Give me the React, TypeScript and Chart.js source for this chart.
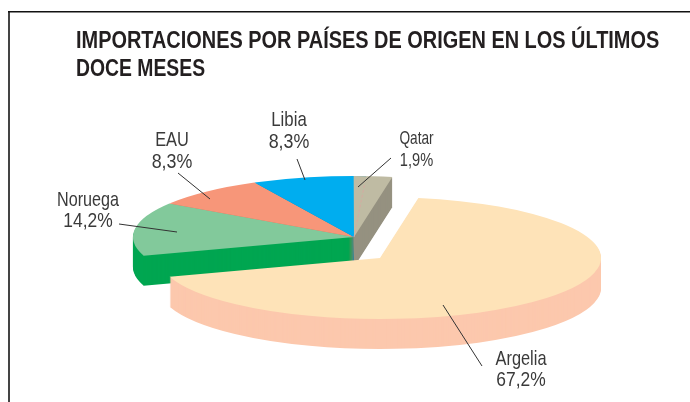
import React, { useEffect, useRef } from "react";
import { Chart, registerables } from "chart.js";

Chart.register(...registerables);

const countries = ["Argelia", "Noruega", "EAU", "Libia", "Qatar"];
const shares = [67.2, 14.2, 8.3, 8.3, 1.9];
const topColors = ["#FEE3B8", "#82C99B", "#F79679", "#00ADEF", "#BFBBA3"];
const sideColors = ["#FCC8AD", "#00A651", "#C9785F", "#0089BE", "#959180"];
const titleLines = ["IMPORTACIONES POR PAÍSES DE ORIGEN EN LOS ÚLTIMOS", "DOCE MESES"];

const FONT = '"Liberation Sans", Arial, sans-serif';
const pie = { cx: 354, cy: 237, rx: 221, ry: 61, depth: 30, startDeg: 10 };
const explode = { dx: 26, dy: 21 };
const QATAR_OVERLAP = 0.9;
const titleStyle = { x: 76, size: 24.5, squeeze: [0.813, 0.79], baselines: [48, 76] };
const callouts = [
  { x: 521, y: 365, y2: 386, size: 21, squeeze: 0.78, squeeze2: 0.83, from: [482, 366], to: [443, 305] },
  { x: 88, y: 206, y2: 227, size: 21, squeeze: 0.77, squeeze2: 0.83, from: [119, 224], to: [177, 232] },
  { x: 172, y: 146, y2: 168, size: 21, squeeze: 0.78, squeeze2: 0.85, from: [178, 173], to: [210, 199] },
  { x: 289, y: 126, y2: 148, size: 21, squeeze: 0.8, squeeze2: 0.85, from: [297, 159], to: [305, 180] },
  { x: 416.5, y: 144, y2: 166, size: 19, squeeze: 0.72, squeeze2: 0.77, from: [391, 158], to: [358, 187] },
];

const pie3d = {
  id: "pie3d",
  beforeDraw(chart: any) {
    const { ctx } = chart;
    ctx.save();
    ctx.fillStyle = "#FFFFFF";
    ctx.fillRect(0, 0, chart.width, chart.height);
    ctx.strokeStyle = "#444444";
    ctx.lineWidth = 2;
    ctx.beginPath();
    ctx.moveTo(9, chart.height);
    ctx.lineTo(9, 11);
    ctx.stroke();
    ctx.strokeStyle = "#111111";
    ctx.lineWidth = 1.5;
    ctx.beginPath();
    ctx.moveTo(8, 11.75);
    ctx.lineTo(chart.width, 11.75);
    ctx.stroke();
    ctx.restore();
  },
  beforeDatasetDraw(chart: any) {
    const { ctx, chartArea } = chart;
    const arcs = chart.getDatasetMeta(0).data;
    const sx = pie.rx / arcs[0].outerRadius;
    const sy = pie.ry / arcs[0].outerRadius;
    const qatar = arcs[4];
    const realStart = qatar.startAngle;
    const paint = (arc: any, x: number, y: number, color: string) => {
      const opts = arc.options;
      arc.options = { ...opts, backgroundColor: color, borderWidth: 0 };
      ctx.save();
      ctx.translate(x, y);
      ctx.scale(sx, sy);
      ctx.translate(-arc.x, -arc.y);
      arc.draw(ctx, chartArea);
      ctx.restore();
      arc.options = opts;
    };
    qatar.startAngle = realStart - (QATAR_OVERLAP / 100) * Math.PI * 2;
    for (const i of [3, 2, 4, 1]) {
      for (let d = pie.depth; d >= 1; d--) paint(arcs[i], pie.cx, pie.cy + d, sideColors[i]);
    }
    for (const i of [1, 2, 3, 4]) paint(arcs[i], pie.cx, pie.cy, topColors[i]);
    qatar.startAngle = realStart;

    const mx = pie.cx + Math.cos(realStart) * pie.rx * 0.89;
    const my = pie.cy + Math.sin(realStart) * pie.ry * 0.89;
    ctx.save();
    ctx.strokeStyle = "#D9A6A0";
    ctx.lineWidth = 0.8;
    ctx.setLineDash([3, 2]);
    ctx.beginPath();
    ctx.moveTo(pie.cx, pie.cy);
    ctx.lineTo(mx, my);
    ctx.stroke();
    ctx.restore();

    const ax = pie.cx + explode.dx;
    const ay = pie.cy + explode.dy;
    for (let d = pie.depth; d >= 1; d--) paint(arcs[0], ax, ay + d, sideColors[0]);
    paint(arcs[0], ax, ay, topColors[0]);
    return false;
  },
  afterDatasetsDraw(chart: any) {
    const { ctx } = chart;
    const squeezed = (text: string, x: number, y: number, k: number) => {
      ctx.save();
      ctx.translate(x, y);
      ctx.scale(k, 1);
      ctx.fillText(text, 0, 0);
      ctx.restore();
    };
    ctx.save();
    ctx.textBaseline = "alphabetic";
    ctx.textAlign = "left";
    ctx.fillStyle = "#231F20";
    ctx.font = `bold ${titleStyle.size}px ${FONT}`;
    titleLines.forEach((line, i) =>
      squeezed(line, titleStyle.x, titleStyle.baselines[i], titleStyle.squeeze[i])
    );
    ctx.textAlign = "center";
    countries.forEach((name, i) => {
      const c = callouts[i];
      ctx.strokeStyle = "#333333";
      ctx.lineWidth = 1;
      ctx.beginPath();
      ctx.moveTo(c.from[0], c.from[1]);
      ctx.lineTo(c.to[0], c.to[1]);
      ctx.stroke();
      ctx.fillStyle = "#3A3A3A";
      ctx.font = `${c.size}px ${FONT}`;
      squeezed(name, c.x, c.y, c.squeeze);
      squeezed(`${shares[i].toFixed(1).replace(".", ",")}%`, c.x, c.y2, c.squeeze2);
    });
    ctx.restore();
  },
};

export default function App() {
  const ref = useRef<HTMLCanvasElement>(null);
  useEffect(() => {
    const chart = new Chart(ref.current!, {
      type: "pie",
      data: {
        labels: countries,
        datasets: [{ data: shares, backgroundColor: topColors, borderWidth: 0 }],
      },
      options: {
        responsive: false,
        animation: false,
        events: [],
        rotation: pie.startDeg,
        layout: { padding: { left: 75, top: 20, right: 10, bottom: 10 } },
        plugins: {
          legend: { display: false },
          tooltip: { enabled: false },
          title: { display: false },
        },
      },
      plugins: [pie3d],
    } as any);
    return () => chart.destroy();
  }, []);
  return (
    <div style={{ position: "fixed", left: 0, top: 0, width: 690, height: 402 }}>
      <canvas ref={ref} width={690} height={402} style={{ display: "block" }} />
    </div>
  );
}
